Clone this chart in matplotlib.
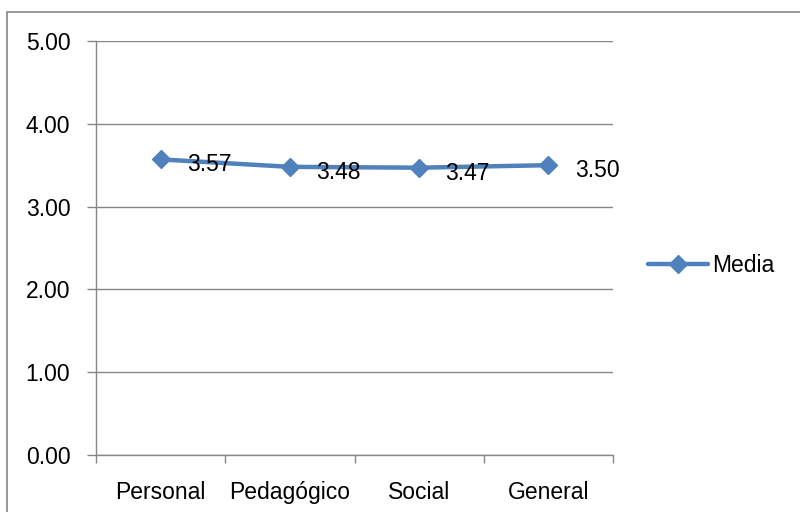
import numpy as np
import matplotlib
matplotlib.use('Agg')
import matplotlib.pyplot as plt
from matplotlib.patches import Rectangle

plt.rcParams['font.family'] = ['Liberation Sans', 'DejaVu Sans']

# data
categories = ['Personal', 'Pedagógico', 'Social', 'General']
media = [3.57, 3.48, 3.47, 3.50]
yticks = [0, 1, 2, 3, 4, 5]

blue = '#4F81BD'
grey = '#868686'

fig = plt.figure(figsize=(8, 5.12), dpi=100)
ax = fig.add_axes([96/800, 1 - 455/512, (613 - 96)/800, (455 - 41)/512])

x = np.arange(len(categories))
line, = ax.plot(x, media, color=blue, lw=3.2, marker='D', ms=9.5,
                mfc=blue, mec=blue, label='Media', solid_capstyle='round')

for xi, v in zip(x, media):
    ax.annotate('%.2f' % v, (xi, v), xytext=(19, -4), textcoords='offset points',
                ha='left', va='center', fontsize=16.5)

ax.set_xlim(-0.5, len(categories) - 0.5)
ax.set_ylim(0, 5)
ax.set_yticks(yticks)
ax.set_yticklabels(['%.2f' % t for t in yticks])
ax.set_xticks(x)
ax.set_xticklabels(categories)
ax.set_xticks(np.arange(len(categories) + 1) - 0.5, minor=True)

ax.grid(axis='y', color=grey, lw=1)
ax.set_axisbelow(True)
for s in ['top', 'right']:
    ax.spines[s].set_visible(False)
for s in ['left', 'bottom']:
    ax.spines[s].set_color(grey)
    ax.spines[s].set_linewidth(1)

ax.tick_params(axis='y', length=6.5, width=1, color=grey, pad=12, labelsize=16.5)
ax.tick_params(axis='x', which='major', length=0, pad=19, labelsize=16.5)
ax.tick_params(axis='x', which='minor', length=6, width=1, color=grey)

fig.legend(handles=[line], loc='center left', bbox_to_anchor=(648/800, 1 - 266/512),
           frameon=False, fontsize=16.5, handlelength=2.6, handletextpad=0.2,
           borderpad=0, borderaxespad=0)

# chart border (only top and left visible in the crop)
fig.patches.append(Rectangle((7/800, -0.2), 1.5, 1.2 - 12/512 + 0.0,
                             transform=fig.transFigure, fill=False,
                             edgecolor=grey, lw=1.2))

fig.savefig('out.png', dpi=100)
